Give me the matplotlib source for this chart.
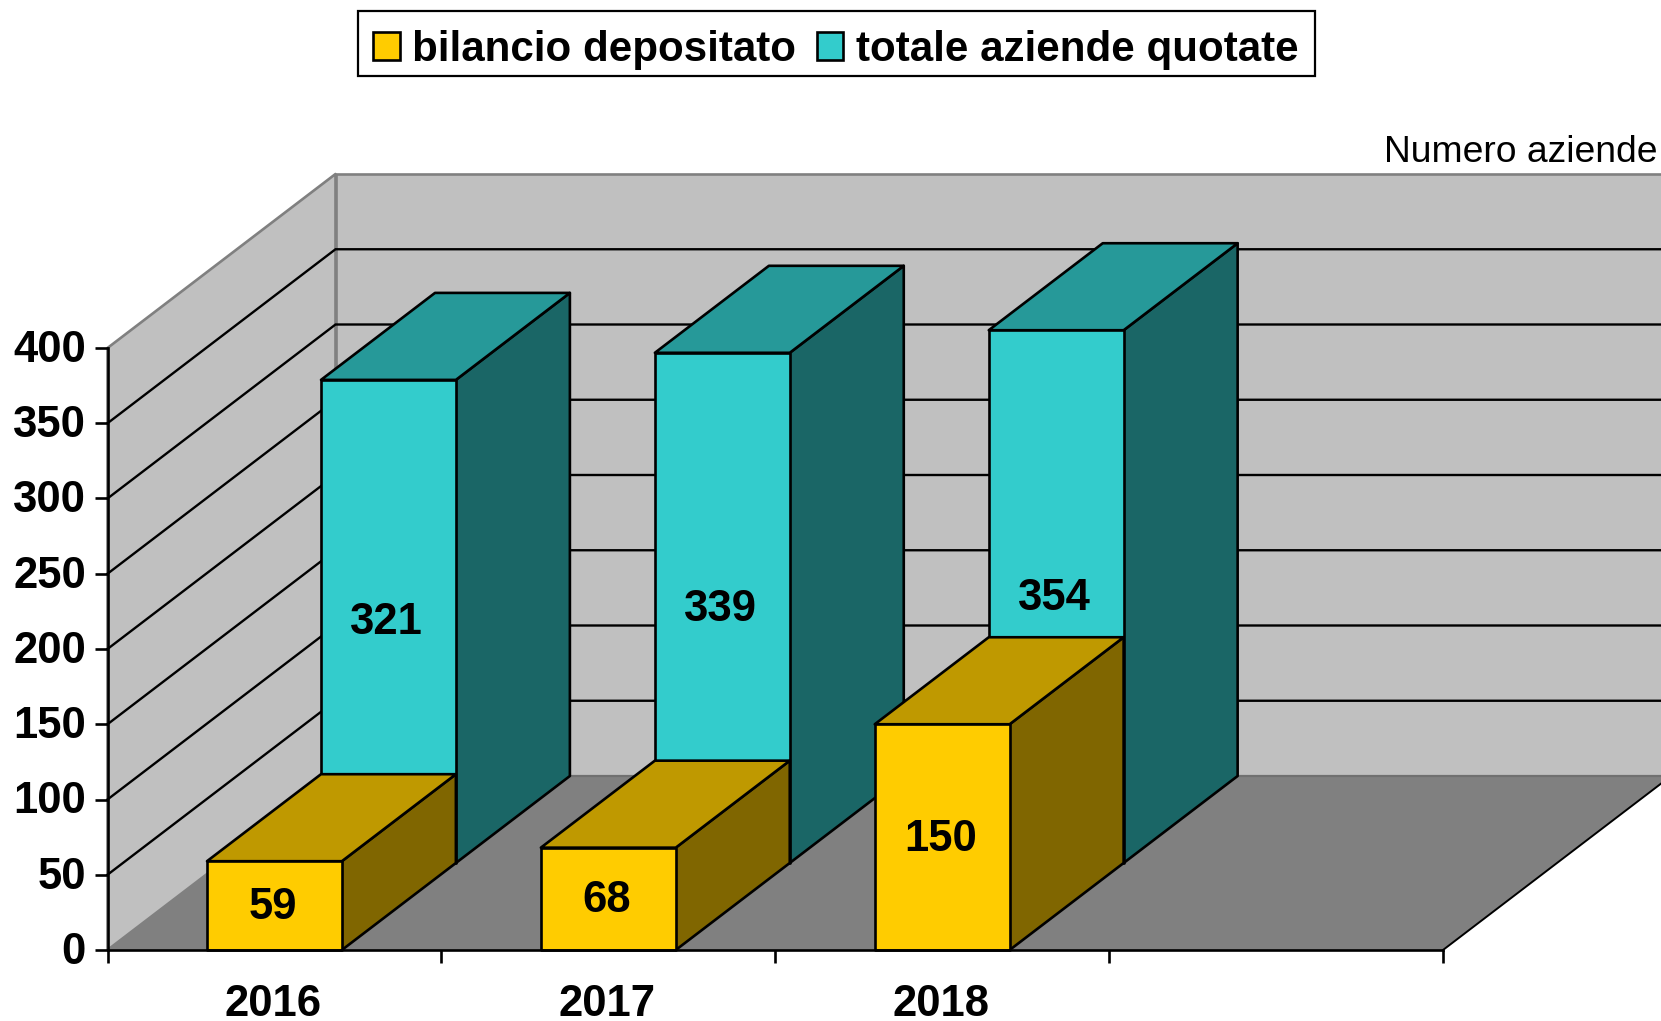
import matplotlib
matplotlib.use("Agg")
import matplotlib.pyplot as plt
from matplotlib.patches import Polygon, Patch, Rectangle
from matplotlib.transforms import ScaledTranslation

plt.rcParams["font.family"] = ["Liberation Sans", "DejaVu Sans"]
plt.rcParams["font.weight"] = "bold"

years = ["2016", "2017", "2018"]
bilancio = [59, 68, 150]
totale = [321, 339, 354]
y_ticks = [0, 50, 100, 150, 200, 250, 300, 350, 400]
n_slots = 4

W, H = 1661, 1021
X0, X1, Y0, Y1 = 107.5, 1443, 950, 348   # front plane, in pixels
DX = 228 / ((X1 - X0) / n_slots)         # full floor depth, in data units
DY = 174 / ((Y0 - Y1) / 400)
BAR_LEFT, BAR_W = 0.298, 0.404
LW = 1.9
FS = 31.4


def pr(x, v, z):
    """Oblique projection: z=0 front of floor, z=1 back wall."""
    return (x + z * DX, v + z * DY)


def poly(ax, pts, fc, ec="black", lw=LW, zorder=1):
    ax.add_patch(Polygon(pts, closed=True, fc=fc, ec=ec, lw=lw, zorder=zorder,
                         clip_on=False, joinstyle="round"))


def box(ax, x, v, z0, z1, front, top, side, zorder):
    r = x + BAR_W
    poly(ax, [pr(r, 0, z0), pr(r, 0, z1), pr(r, v, z1), pr(r, v, z0)], side, zorder=zorder)
    poly(ax, [pr(x, v, z0), pr(r, v, z0), pr(r, v, z1), pr(x, v, z1)], top, zorder=zorder)
    poly(ax, [pr(x, 0, z0), pr(r, 0, z0), pr(r, v, z0), pr(x, v, z0)], front, zorder=zorder)


fig = plt.figure(figsize=(W / 100, H / 100), dpi=100)
ax = fig.add_axes([X0 / W, (H - Y0) / H, (X1 - X0) / W, (Y0 - Y1) / H])
ax.set_xlim(0, n_slots)
ax.set_ylim(0, 400)
ax.patch.set_visible(False)

# walls and floor
poly(ax, [pr(0, 0, 1), pr(n_slots, 0, 1), pr(n_slots, 400, 1), pr(0, 400, 1)],
     "#C0C0C0", ec="#808080", zorder=1)
poly(ax, [pr(0, 0, 0), pr(0, 0, 1), pr(0, 400, 1), pr(0, 400, 0)],
     "#C0C0C0", ec="#808080", zorder=1)
poly(ax, [pr(0, 0, 0), pr(n_slots, 0, 0), pr(n_slots, 0, 1), pr(0, 0, 1)],
     "#808080", ec="none", zorder=1.1)
ax.plot(*zip(pr(n_slots, 0, 0), pr(n_slots, 0, 1)), color="black", lw=1.4,
        clip_on=False, zorder=1.2)
ax.plot(*zip(pr(0, 0, 1), pr(n_slots, 0, 1)), color="#707070", lw=1.6,
        clip_on=False, zorder=1.2)

# gridlines
for v in y_ticks[1:-1]:
    ax.plot(*zip(pr(0, v, 0), pr(0, v, 1), pr(n_slots, v, 1)), color="black",
            lw=1.7, clip_on=False, zorder=1.5, solid_joinstyle="miter")

# bars, back series first
for i, v in enumerate(totale):
    box(ax, i + BAR_LEFT, v, 0.5, 1, "#33CCCC", "#269999", "#1A6666", 2)
for i, v in enumerate(bilancio):
    box(ax, i + BAR_LEFT, v, 0, 0.5, "#FFCC00", "#BF9900", "#806600", 3)

# data labels, centred on the front faces
for i, v in enumerate(totale):
    x, y = pr(i + BAR_LEFT + BAR_W / 2, v / 2, 0.5)
    ax.annotate(str(v), (x, y), xytext=(-1.2, -1), textcoords="offset points", ha="center",
                va="center", fontsize=FS, zorder=5, annotation_clip=False)
for i, v in enumerate(bilancio):
    x, y = pr(i + BAR_LEFT + BAR_W / 2, v / 2, 0)
    ax.annotate(str(v), (x, y), xytext=(-1, -1.5), textcoords="offset points", ha="center",
                va="center", fontsize=FS, zorder=5, annotation_clip=False)

# axes
for s in ["top", "right"]:
    ax.spines[s].set_visible(False)
for s in ["left", "bottom"]:
    ax.spines[s].set_linewidth(LW)
    ax.spines[s].set_zorder(4)
ax.set_yticks(y_ticks)
ax.set_xticks(range(n_slots + 1))
ax.set_xticklabels([])
ax.set_xticks([i + 0.5 for i in range(len(years))], minor=True)
ax.set_xticklabels(years, minor=True, fontsize=FS)
ax.tick_params(axis="y", length=9.5, width=LW, pad=6, labelsize=FS)
ax.tick_params(axis="x", which="major", length=9.5, width=LW, direction="out")
ax.tick_params(axis="x", which="minor", length=0, pad=24.5)
nudge = ScaledTranslation(0, 1.5 / 72, fig.dpi_scale_trans)
for lab in ax.get_yticklabels():
    lab.set_transform(lab.get_transform() + nudge)
nudge_x = ScaledTranslation(-1.2 / 72, 0, fig.dpi_scale_trans)
for lab in ax.get_xticklabels(minor=True):
    lab.set_transform(lab.get_transform() + nudge_x)

fig.text(1657 / W, 1 - 153 / H, "Numero aziende", ha="right", va="center",
         fontsize=26.8, fontweight="normal")

# legend: frame drawn separately so its height and width can follow the reference
fig.add_artist(Rectangle((358 / W, 1 - 76.5 / H), 957 / W, 65 / H, fc="white", ec="black",
                         lw=1.6, transform=fig.transFigure, zorder=-1))
handles = [Patch(fc="#FFCC00", ec="black", lw=LW), Patch(fc="#33CCCC", ec="black", lw=LW)]
leg = ax.legend(handles, ["bilancio depositato", "totale aziende quotate"], ncols=2,
                loc="center", bbox_to_anchor=(836 / W, 1 - 50 / H),
                bbox_transform=fig.transFigure, fontsize=30.3, frameon=False,
                handlelength=0.62, handleheight=0.64,
                handletextpad=0.3, columnspacing=0.5, borderpad=0.2, borderaxespad=0)

fig.savefig("out.png", dpi=100)
